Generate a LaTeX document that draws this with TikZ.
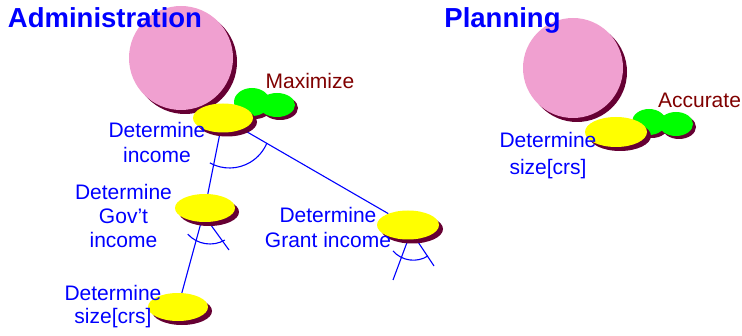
\documentclass[tikz,border=0pt]{standalone}
\usepackage{fontspec}
\setmainfont{Liberation Sans}
\usetikzlibrary{shapes.geometric,shadows,backgrounds}

\definecolor{goalpink}{RGB}{240,160,208}
\definecolor{shadowred}{RGB}{102,0,51}
\definecolor{taskyellow}{RGB}{255,255,0}
\definecolor{claimgreen}{RGB}{0,255,0}
\definecolor{inkblue}{RGB}{0,0,255}
\definecolor{claimred}{RGB}{128,0,0}

\begin{document}
\begin{tikzpicture}[x=1pt,y=1pt,
  castshadow/.style={drop shadow={shadow xshift=4pt,shadow yshift=-4pt,opacity=1,fill=shadowred}},
  softgoal/.style={circle,fill=goalpink,inner sep=0,castshadow},
  task/.style={ellipse,fill=taskyellow,inner sep=0,minimum width=60,minimum height=29,castshadow},
  lobe/.style={ellipse,fill=claimgreen,inner sep=0},
  lobeshade/.style={fill=shadowred},
  lbl/.style={text=inkblue,align=center,anchor=base,inner sep=0},
  claim/.style={text=claimred,anchor=base,inner sep=0,font=\fontsize{21}{25}\selectfont},
  heading/.style={text=inkblue,anchor=base,inner sep=0,font=\fontsize{27.5}{30}\selectfont\bfseries},
  link/.style={draw=inkblue,line width=1.1pt},
]
\useasboundingbox (0,0) rectangle (742,335);

% ---------- Administration ----------
\node[softgoal,minimum size=104] (adm) at (181,277) {};

% claim blob behind the task
\fill[lobeshade] (255,230) ellipse[x radius=18,y radius=14];
\fill[lobeshade] (280,227) ellipse[x radius=18,y radius=12];
\node[lobe,minimum width=36,minimum height=28] (maxa) at (252,233) {};
\node[lobe,minimum width=36,minimum height=24] (maxb) at (277,230) {};

\node[task] (inc) at (223,217) {};
\node[task,minimum height=28] (gov) at (205,127) {};
\node[task,minimum width=62] (grant) at (408,110) {};
\node[task,minimum height=28] (size) at (178,28) {};

% free ends and arc centres
\coordinate (govend) at (229,85);
\coordinate (grantendA) at (393,55);
\coordinate (grantendB) at (434,69);
\coordinate (incarc) at (229.5,207.5);
\coordinate (govarc) at (210,121);
\coordinate (grantarc) at (413.4,102);

\begin{scope}[on background layer]
  \draw[link] (inc) -- (gov);
  \draw[link] (gov) -- (size);
  \draw[link] (inc) -- (grant);
  \draw[link] (gov.-75) -- (govend);
  \draw[link] (grant.-90) -- (grantendA);
  \draw[link] (grant.-60) -- (grantendB);
\end{scope}

% AND arcs
\draw[link] ([shift={(241:40.5)}]incarc) arc[start angle=241,end angle=337.5,radius=40.5];
\draw[link] ([shift={(222:30)}]govarc) arc[start angle=222,end angle=299.6,radius=30];
\draw[link] ([shift={(221.4:27.2)}]grantarc) arc[start angle=221.4,end angle=302.4,radius=27.2];

\node[heading] (admtitle) at (105,307) {Administration};
\node[claim] (maxlbl) at (310,246) {Maximize};
\node[lbl,font=\fontsize{21}{25}\selectfont] (inclbl) at (157,172) {Determine\\income};
\node[lbl,font=\fontsize{21}{24}\selectfont] (govlbl) at (123.5,88) {Determine\\Gov’t\\income};
\node[lbl,font=\fontsize{21}{25}\selectfont] (grantlbl) at (328,88) {Determine\\Grant income};
\node[lbl,font=\fontsize{21}{23}\selectfont] (sizelbl) at (113,12) {Determine\\size[crs]};

% ---------- Planning ----------
\node[softgoal,minimum size=100] (plan) at (573,267) {};
\fill[lobeshade] (652,210) ellipse[x radius=17,y radius=13];
\fill[lobeshade] (679,208) ellipse[x radius=17,y radius=12];
\node[lobe,minimum width=34,minimum height=26] (acca) at (649,213) {};
\node[lobe,minimum width=34,minimum height=24] (accb) at (676,211) {};
\node[task,minimum width=62,minimum height=30] (psize) at (616,203) {};

\node[heading] (plantitle) at (502.5,307) {Planning};
\node[claim] (acclbl) at (699.5,227) {Accurate};
\node[lbl,font=\fontsize{21}{27}\selectfont] (psizelbl) at (548,160) {Determine\\size[crs]};
\end{tikzpicture}
\end{document}
